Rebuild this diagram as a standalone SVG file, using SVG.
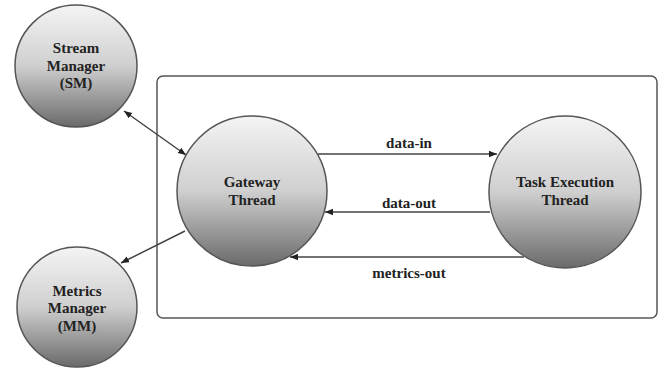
<svg xmlns="http://www.w3.org/2000/svg" width="660" height="368" viewBox="0 0 660 368">
<defs>
<linearGradient id="g" x1="0" y1="0" x2="0" y2="1">
<stop offset="0" stop-color="#f4f4f4"/>
<stop offset="0.5" stop-color="#cfcfcf"/>
<stop offset="1" stop-color="#6a6a6a"/>
</linearGradient>
<marker id="ah" viewBox="0 0 10 10" refX="10" refY="5" markerWidth="8" markerHeight="8" markerUnits="userSpaceOnUse" orient="auto-start-reverse">
<path d="M0,1 L10,5 L0,9 z" fill="#222"/>
</marker>
<style>
.n{fill:url(#g);stroke:#555;stroke-width:1.5}
.t{font-family:"Liberation Serif","Times New Roman",serif;font-weight:bold;font-size:15px;fill:#222;text-anchor:middle}
.c{fill:none;stroke:#444;stroke-width:1.5}
</style>
</defs>
<rect width="660" height="368" fill="#fff"/>
<rect id="container" x="157" y="76" width="500" height="242" rx="6" fill="none" stroke="#555" stroke-width="1.5"/>
<g id="sm">
<circle class="n" cx="76" cy="66" r="61"/>
<text class="t" x="76" y="53">Stream</text>
<text class="t" x="76" y="71">Manager</text>
<text class="t" x="76" y="88">(SM)</text>
</g>
<g id="gateway">
<circle class="n" cx="252" cy="191" r="75"/>
<text class="t" x="252" y="187">Gateway</text>
<text class="t" x="252" y="205">Thread</text>
</g>
<g id="task">
<circle class="n" cx="565" cy="192" r="76"/>
<text class="t" x="565" y="187">Task Execution</text>
<text class="t" x="565" y="205">Thread</text>
</g>
<g id="mm">
<circle class="n" cx="77" cy="307" r="60"/>
<text class="t" x="77" y="296">Metrics</text>
<text class="t" x="77" y="313">Manager</text>
<text class="t" x="77" y="331">(MM)</text>
</g>
<g id="connectors">
<line class="c" x1="124" y1="111" x2="186" y2="155" marker-start="url(#ah)" marker-end="url(#ah)"/>
<line class="c" x1="185" y1="231" x2="121" y2="263" marker-end="url(#ah)"/>
<line class="c" x1="318" y1="154" x2="497" y2="154" marker-end="url(#ah)"/>
<line class="c" x1="490" y1="212" x2="325" y2="212" marker-end="url(#ah)"/>
<line class="c" x1="524" y1="257" x2="290" y2="257" marker-end="url(#ah)"/>
<text class="t" x="409" y="148">data-in</text>
<text class="t" x="409" y="208">data-out</text>
<text class="t" x="409" y="278">metrics-out</text>
</g>
</svg>
